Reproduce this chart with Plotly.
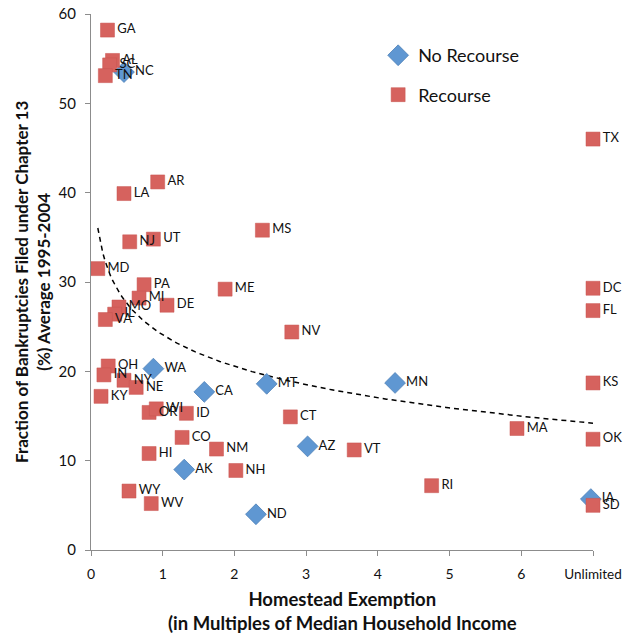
import numpy as np
import plotly.graph_objects as go

# Homestead exemption (multiples of median household income; 7 = unlimited)
# and share of bankruptcies filed under Chapter 13 (%), 1995-2004 average.
no_recourse_states = ["NC", "WA", "CA", "AK", "MT", "MN", "AZ", "ND", "IA"]
no_recourse_x = [0.46, 0.87, 1.58, 1.30, 2.45, 4.24, 3.02, 2.30, 6.97]
no_recourse_y = [53.5, 20.3, 17.7, 9.0, 18.6, 18.7, 11.6, 4.0, 5.7]

recourse_states = ["GA", "AL", "SC", "TN", "LA", "AR", "NJ", "UT", "MS",
                   "MD", "PA", "MI", "DE", "MO", "IL", "VA", "ME", "NV",
                   "OH", "IN", "NY", "NE", "KY", "OR", "WI", "ID", "CO",
                   "NM", "HI", "NH", "WY", "WV", "CT", "VT", "MA", "RI",
                   "TX", "DC", "FL", "KS", "OK", "SD"]
recourse_x = [0.23, 0.30, 0.26, 0.20, 0.46, 0.93, 0.54, 0.87, 2.39,
              0.095, 0.74, 0.67, 1.06, 0.39, 0.33, 0.20, 1.87, 2.80,
              0.24, 0.18, 0.46, 0.63, 0.14, 0.81, 0.91, 1.33, 1.27,
              1.75, 0.81, 2.02, 0.53, 0.84, 2.78, 3.67, 5.94, 4.75,
              7.0, 7.0, 7.0, 7.0, 7.0, 7.0]
recourse_y = [58.2, 54.8, 54.3, 53.1, 39.9, 41.2, 34.5, 34.8, 35.8,
              31.5, 29.7, 28.2, 27.4, 27.2, 26.4, 25.8, 29.2, 24.4,
              20.6, 19.6, 19.0, 18.2, 17.2, 15.4, 15.8, 15.3, 12.6,
              11.3, 10.8, 8.9, 6.6, 5.2, 14.9, 11.2, 13.6, 7.2,
              46.0, 29.3, 26.8, 18.7, 12.4, 5.0]

x_tick_vals = [0, 1, 2, 3, 4, 5, 6, 7]
x_tick_text = ["0", "1", "2", "3", "4", "5", "6",
               "<span style='font-size:13.5px'>Unlimited</span>"]
y_tick_vals = [0, 10, 20, 30, 40, 50, 60]

# Logarithmic trendline fitted over all states
all_x = np.array(no_recourse_x + recourse_x)
all_y = np.array(no_recourse_y + recourse_y)
slope, intercept = np.polyfit(np.log(all_x), all_y, 1)
trend_x = np.linspace(all_x.min(), all_x.max(), 200)
trend_y = intercept + slope * np.log(trend_x)

FONT = "Lato, 'Open Sans', sans-serif"
BLUE = "#5F97D2"
RED = "#D6625E"
AXIS = "#8C8C8C"
INK = "#111111"

fig = go.Figure()

fig.add_trace(go.Scatter(
    x=trend_x, y=trend_y, mode="lines",
    line=dict(color="black", width=1.5, dash="5px,4px"),
    showlegend=False, hoverinfo="skip", cliponaxis=False,
))

fig.add_trace(go.Scatter(
    x=no_recourse_x, y=no_recourse_y, text=no_recourse_states,
    mode="markers+text", name="No Recourse", legendgroup="a",
    marker=dict(symbol="diamond", size=16, color=BLUE,
                line=dict(color="#4F82B8", width=0.8)),
    textposition="middle right", cliponaxis=False,
    textfont=dict(family=FONT, size=13, color=INK),
))

fig.add_trace(go.Scatter(
    x=recourse_x, y=recourse_y, text=recourse_states,
    mode="markers+text", name="Recourse", legendgroup="b",
    marker=dict(symbol="square", size=14, color=RED,
                line=dict(color="#C85550", width=0.5)),
    textposition="middle right", cliponaxis=False,
    textfont=dict(family=FONT, size=13, color=INK),
))

fig.update_layout(
    width=632, height=637,
    margin=dict(l=91, r=39, t=14, b=87, autoexpand=False),
    paper_bgcolor="white", plot_bgcolor="white",
    font=dict(family=FONT, color=INK),
    legend=dict(x=0.572, y=0.957, xanchor="left", yanchor="top",
                font=dict(family=FONT, size=18, color=INK),
                tracegroupgap=13, bgcolor="rgba(0,0,0,0)",
                itemwidth=30),
    xaxis=dict(
        range=[0, 7], tickvals=x_tick_vals, ticktext=x_tick_text,
        showgrid=False, zeroline=False, showline=True,
        linecolor=AXIS, linewidth=1,
        ticks="outside", ticklen=5, tickcolor=AXIS,
        tickfont=dict(family=FONT, size=14, color=INK),
        ticklabelstandoff=6, automargin=False,
    ),
    yaxis=dict(
        range=[0, 60], tickvals=y_tick_vals,
        showgrid=False, zeroline=False, showline=True,
        linecolor=AXIS, linewidth=1,
        ticks="outside", ticklen=5, tickcolor=AXIS,
        tickfont=dict(family=FONT, size=15, color=INK),
        ticklabelstandoff=6, automargin=False,
    ),
    annotations=[
        dict(text="<b>Homestead Exemption<br>(in Multiples of Median Household Income</b>",
             xref="paper", yref="paper", x=0.5, y=-0.1138,
             xanchor="center", yanchor="middle", showarrow=False,
             font=dict(family=FONT, size=18.5, color=INK)),
        dict(text="<b>Fraction of Bankruptcies Filed under Chapter 13<br>(%) Average 1995-2004</b>",
             xref="paper", yref="paper", x=-0.1175, y=0.5, textangle=-90,
             xanchor="center", yanchor="middle", showarrow=False,
             font=dict(family=FONT, size=17, color=INK)),
    ],
)

fig.write_html("out.html")
